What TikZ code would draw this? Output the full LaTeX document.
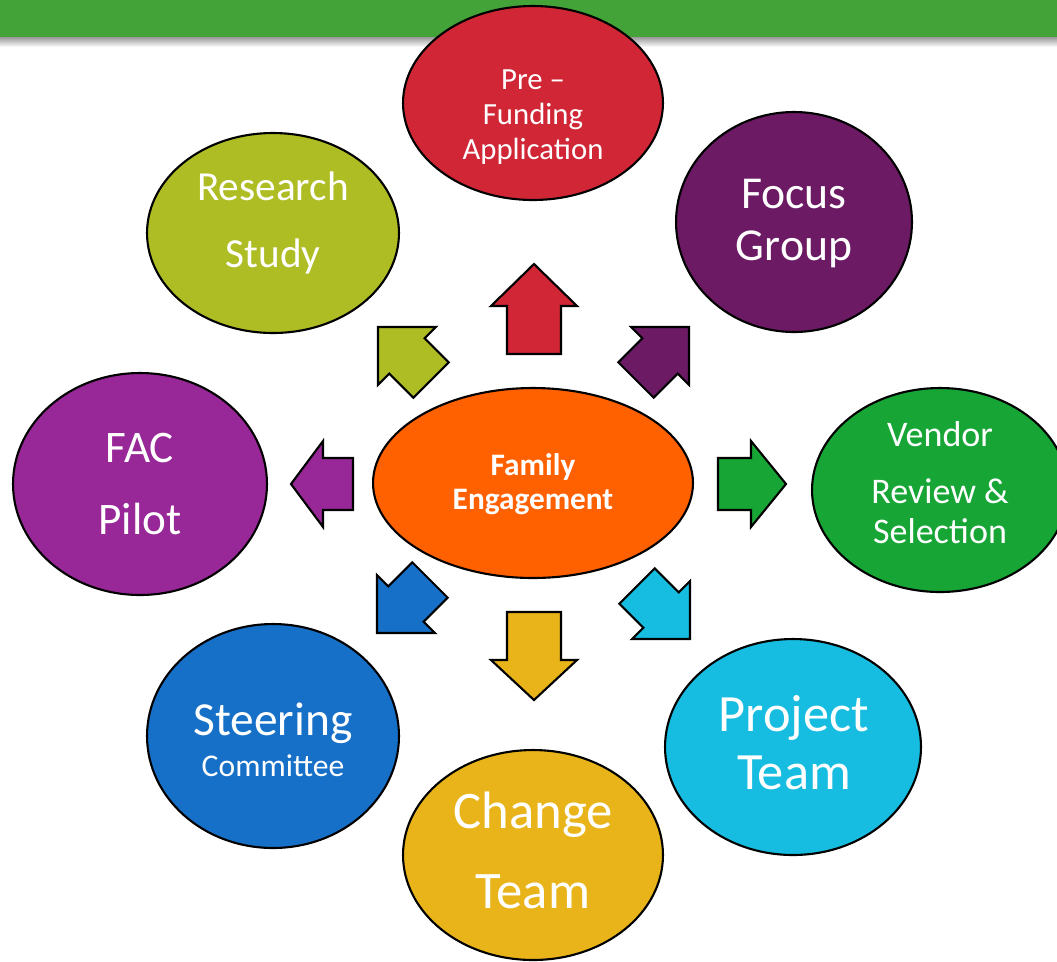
\documentclass[tikz,border=0pt]{standalone}
\usepackage{fontspec}
\setmainfont{Carlito}
\usepackage{tikz}
\usetikzlibrary{shapes.geometric}

\definecolor{barGreen}{RGB}{67,163,56}
\definecolor{preRed}{RGB}{208,38,54}
\definecolor{focusPurple}{RGB}{107,26,99}
\definecolor{researchLime}{RGB}{174,189,35}
\definecolor{facPurple}{RGB}{152,40,152}
\definecolor{vendorGreen}{RGB}{23,166,54}
\definecolor{steerBlue}{RGB}{23,112,200}
\definecolor{projectCyan}{RGB}{22,189,224}
\definecolor{changeGold}{RGB}{233,180,26}
\definecolor{familyOrange}{RGB}{255,96,0}

\begin{document}
\begin{tikzpicture}[
    x=0.02cm, y=-0.02cm,
    bubble/.style={ellipse, draw=black, line width=1.2pt, inner sep=0pt},
    bubbletext/.style={text=white, align=center, inner sep=0pt},
    arrowbox/.style={draw=black, line width=1.2pt, line join=miter}
]
\useasboundingbox (0,0) rectangle (1057,961);
\clip (0,0) rectangle (1057,961);

% title bar
\fill[barGreen] (0,0) rectangle (1057,37);
\shade[top color=black!40, bottom color=white] (0,37) rectangle (1057,47);

% bubbles
\node[bubble, fill=preRed, minimum width=5.2cm, minimum height=3.88cm] (pre) at (533,103) {};
\node[bubble, fill=focusPurple, minimum width=4.72cm, minimum height=4.4cm] (focus) at (794,222) {};
\node[bubble, fill=researchLime, minimum width=5.04cm, minimum height=4cm] (research) at (273,233) {};
\node[bubble, fill=facPurple, minimum width=5.08cm, minimum height=4.44cm] (fac) at (140,484) {};
\node[bubble, fill=vendorGreen, minimum width=5.12cm, minimum height=4.08cm] (vendor) at (940,490) {};
\node[bubble, fill=steerBlue, minimum width=5.04cm, minimum height=4.48cm] (steering) at (273,736) {};
\node[bubble, fill=projectCyan, minimum width=5.12cm, minimum height=4.32cm] (project) at (793,747) {};
\node[bubble, fill=changeGold, minimum width=5.2cm, minimum height=4.2cm] (change) at (533,855) {};
\node[bubble, fill=familyOrange, minimum width=6.4cm, minimum height=3.8cm] (family) at (533,483) {};

% texts
\node[bubbletext, font=\fontsize{17.5}{20}\selectfont] (preT) at (533,117) {Pre –\\Funding\\Application};
\node[bubbletext, font=\fontsize{26}{29.6}\selectfont] (focusT) at (794,224) {Focus\\Group};
\node[bubbletext, font=\fontsize{23.5}{38}\selectfont] (researchT) at (273,223) {Research\\Study};
\node[bubbletext, font=\fontsize{25.7}{41.5}\selectfont] (facT) at (140,484) {FAC\\Pilot};
\node[bubbletext, font=\fontsize{20.5}{22.8}\selectfont] (vendorT) at (940,483) {Vendor\\[9.6pt]Review \&\\Selection};
\node[bubbletext, font=\bfseries\fontsize{17.8}{19.3}\selectfont] (familyT) at (533,484) {Family\\Engagement};
\node[bubbletext] (steeringT) at (273,740) {{\fontsize{27}{30}\selectfont Steering}\\[5pt]{\fontsize{18}{20}\selectfont Committee}};
\node[bubbletext, font=\fontsize{29.8}{33}\selectfont] (projectT) at (794,743) {Project\\Team};
\node[bubbletext, font=\fontsize{30}{45.5}\selectfont] (changeT) at (533,850) {Change\\Team};

% block arrows round the centre
\foreach \px/\py/\ang/\len/\hd/\wd/\sh/\col in {
    534/354/90/90/42/43/27/preRed,
    636/380/45/75/41/41/25/focusPurple,
    718/484/0/68/35/43/26/vendorGreen,
    637/586/315/75/41/41/25/projectCyan,
    534/612/270/88/40/43/27/changeGold,
    430/580/225/75/41/41/25/steerBlue,
    353/484/180/62/32/43/26/facPurple,
    431/380/135/75/41/41/25/researchLime}
{
  \draw[arrowbox, fill=\col, shift={(\px,\py)}, rotate=\ang]
    (0,-\sh) -- (\len-\hd,-\sh) -- (\len-\hd,-\wd) -- (\len,0)
    -- (\len-\hd,\wd) -- (\len-\hd,\sh) -- (0,\sh) -- cycle;
}
\end{tikzpicture}
\end{document}
